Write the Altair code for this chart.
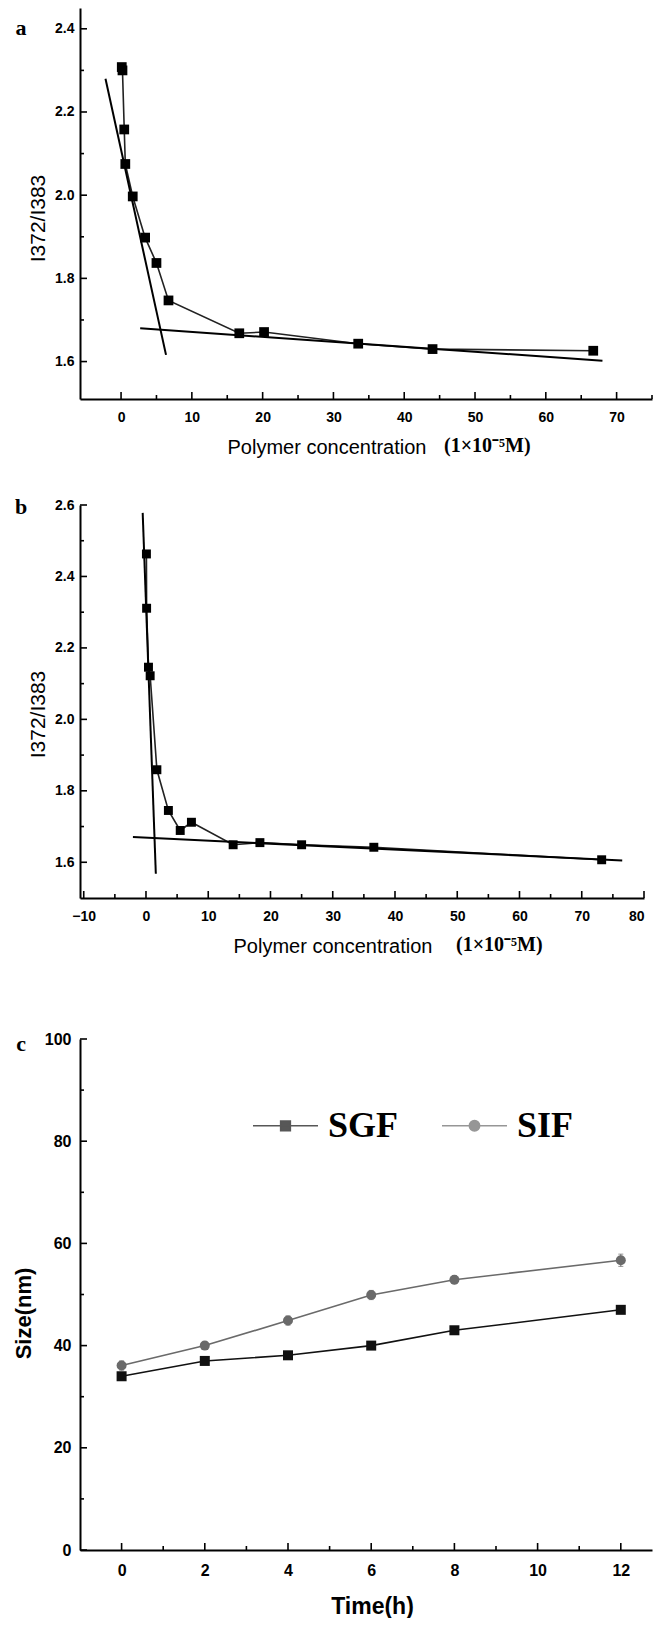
import altair as alt
import pandas as pd

# ---------------- data ----------------
# panel a : pyrene ratio vs polymer concentration
a_conc = [0.1, 0.2, 0.45, 0.6, 1.65, 3.4, 5.0, 6.7, 16.7, 20.2, 33.5, 44.0, 66.7]
a_ratio = [2.308, 2.300, 2.158, 2.075, 1.997, 1.898, 1.837, 1.747, 1.668, 1.671, 1.643, 1.630, 1.626]
a_fit_x1 = [-2.2, 2.7]
a_fit_y1 = [2.280, 1.680]
a_fit_x2 = [6.35, 68.0]
a_fit_y2 = [1.616, 1.602]

# panel b
b_conc = [0.07, 0.1, 0.4, 0.67, 1.75, 3.6, 5.5, 7.3, 14.0, 18.3, 25.0, 36.6, 73.2]
b_ratio = [2.463, 2.311, 2.146, 2.122, 1.859, 1.745, 1.689, 1.712, 1.649, 1.655, 1.649, 1.642, 1.607]
b_fit_x1 = [-0.53, -2.1]
b_fit_y1 = [2.578, 1.6705]
b_fit_x2 = [1.58, 76.5]
b_fit_y2 = [1.568, 1.605]

# panel c : size vs time
time_h = [0, 2, 4, 6, 8, 12]
sgf_size = [34.0, 37.0, 38.1, 40.0, 43.0, 47.0]
sif_size = [36.1, 40.0, 44.9, 49.9, 52.9, 56.7]
sgf_err = [0.6, 0.6, 0.6, 0.6, 0.6, 0.7]
sif_err = [0.9, 0.7, 0.9, 0.9, 0.8, 1.2]
series_names = ["SGF", "SIF"]

# ticks / labels
a_x_major = [0, 10, 20, 30, 40, 50, 60, 70]
a_x_minor = [5, 15, 25, 35, 45, 55, 65, 75]
a_y_major = [1.6, 1.8, 2.0, 2.2, 2.4]
a_y_minor = [1.7, 1.9, 2.1, 2.3]
b_x_major = [-10, 0, 10, 20, 30, 40, 50, 60, 70, 80]
b_x_minor = [-5, 5, 15, 25, 35, 45, 55, 65, 75]
b_y_major = [1.6, 1.8, 2.0, 2.2, 2.4, 2.6]
b_y_minor = [1.7, 1.9, 2.1, 2.3, 2.5]
c_x_major = [0, 2, 4, 6, 8, 10, 12]
c_x_minor = [1, 3, 5, 7, 9, 11]
c_y_major = [0, 20, 40, 60, 80, 100]
c_y_minor = [10, 30, 50, 70, 90]

panel_letters = ["a", "b", "c"]
x_title_ab = "Polymer concentration"
unit_text = "(1×10⁻⁵M)"
y_title_ab = "I372/I383"
x_title_c = "Time(h)"
y_title_c = "Size(nm)"

SANS = "Liberation Sans"
SERIF = "Liberation Serif"
series_colors = ["#111111", "#6a6a6a"]


def tick_layers(xscale, yscale, xax, yax, xmaj, xmin, ymaj, ymin, H):
    layers = []
    for vals, ln in ((xmaj, 7), (xmin, 4)):
        layers.append(
            alt.Chart(pd.DataFrame({"v": vals}))
            .mark_rule(color="black", strokeWidth=1.6)
            .encode(x=alt.X("v:Q", scale=xscale, axis=xax), y=alt.value(H), y2=alt.value(H - ln))
        )
    for vals, ln in ((ymaj, 7), (ymin, 4)):
        layers.append(
            alt.Chart(pd.DataFrame({"v": vals}))
            .mark_rule(color="black", strokeWidth=1.6)
            .encode(y=alt.Y("v:Q", scale=yscale, axis=yax), x=alt.value(0), x2=alt.value(ln))
        )
    return layers


def text_layer(txt, x, y, font, size, weight="bold", align="center", baseline="middle"):
    return (
        alt.Chart(pd.DataFrame({"t": [txt]}))
        .mark_text(font=font, fontSize=size, fontWeight=weight, align=align, baseline=baseline, color="black")
        .encode(text="t:N", x=alt.value(x), y=alt.value(y))
    )


def conc_panel(conc, ratio, fx1, fy1, fx2, fy2, xdom, ydom, W, H,
               xmaj, xmin, ymaj, ymin, letter, letter_y, ytitle_y, xtitle_x, unit_x, size):
    df = pd.DataFrame({"conc": conc, "ratio": ratio, "idx": list(range(len(conc)))})
    fits = pd.DataFrame({"x1": fx1, "y1": fy1, "x2": fx2, "y2": fy2})
    xs = alt.Scale(domain=xdom, nice=False, zero=False)
    ys = alt.Scale(domain=ydom, nice=False, zero=False)
    xax = alt.Axis(values=xmaj, format="d", title=x_title_ab, titleX=xtitle_x, titleY=54,
                   titleAlign="left", titleBaseline="alphabetic", titleFontSize=20,
                   titleFontWeight="normal", titleFont=SANS, labelPadding=11, labelFontSize=14)
    yax = alt.Axis(values=ymaj, format=".1f", title=y_title_ab, titleX=-42, titleY=ytitle_y,
                   titleBaseline="middle", titleAlign="center", titleFontSize=21,
                   titleFontWeight="normal", titleFont=SANS, labelPadding=6, labelFontSize=14)
    line = alt.Chart(df).mark_line(color="#222222", strokeWidth=1.6).encode(
        x=alt.X("conc:Q", scale=xs, axis=xax),
        y=alt.Y("ratio:Q", scale=ys, axis=yax),
        order="idx:Q",
    )
    pts = alt.Chart(df).mark_point(shape="square", filled=True, size=size, color="black", opacity=1).encode(
        x=alt.X("conc:Q", scale=xs, axis=xax), y=alt.Y("ratio:Q", scale=ys, axis=yax)
    )
    fit = alt.Chart(fits).mark_rule(color="black", strokeWidth=2).encode(
        x=alt.X("x1:Q", scale=xs, axis=xax), x2="x2:Q",
        y=alt.Y("y1:Q", scale=ys, axis=yax), y2="y2:Q",
    )
    layers = [line, fit, pts] + tick_layers(xs, ys, xax, yax, xmaj, xmin, ymaj, ymin, H)
    layers.append(text_layer(letter, -59, letter_y, SERIF, 22))
    layers.append(text_layer(unit_text, unit_x, H + 53, SERIF, 20, align="left", baseline="alphabetic"))
    return alt.layer(*layers).properties(width=W, height=H)


chart_a = conc_panel(a_conc, a_ratio, a_fit_x1, a_fit_y1, a_fit_x2, a_fit_y2,
                     [-5.8, 75], [1.51, 2.45], 572, 391,
                     a_x_major, a_x_minor, a_y_major, a_y_minor,
                     panel_letters[0], 20, 210, 147, 364, 95)
chart_b = conc_panel(b_conc, b_ratio, b_fit_x1, b_fit_y1, b_fit_x2, b_fit_y2,
                     [-10.6, 80], [1.5, 2.6], 564, 393,
                     b_x_major, b_x_minor, b_y_major, b_y_minor,
                     panel_letters[1], 2, 209, 153, 376, 80)

# ---------------- panel c ----------------
W_c, H_c = 572, 511
cdf = pd.DataFrame({
    "time": time_h * 2,
    "size": sgf_size + sif_size,
    "err": sgf_err + sif_err,
    "series": [series_names[0]] * len(time_h) + [series_names[1]] * len(time_h),
})
cdf["lo"] = cdf["size"] - cdf["err"]
cdf["hi"] = cdf["size"] + cdf["err"]
xs_c = alt.Scale(domain=[-1, 12.75], nice=False, zero=False)
ys_c = alt.Scale(domain=[0, 100], nice=False, zero=False)
col_sc = alt.Scale(domain=series_names, range=series_colors)
xax_c = alt.Axis(values=c_x_major, format="d", title=x_title_c, titleX=292, titleY=63,
                 titleAlign="center", titleBaseline="alphabetic", titleFontSize=23,
                 titleFontWeight="bold", titleFont=SANS, labelPadding=12, labelFontSize=16)
yax_c = alt.Axis(values=c_y_major, format="d", title=y_title_c, titleX=-57, titleY=274,
                 titleAlign="center", titleBaseline="middle", titleFontSize=22,
                 titleFontWeight="bold", titleFont=SANS, labelPadding=9, labelFontSize=16)

legend_paths = [
    "M-1,0H1M-0.15,-0.15H0.15V0.15H-0.15Z",
    "M-1,0H1M0.16,0A0.16,0.16 0 1 1 -0.16,0A0.16,0.16 0 1 1 0.16,0Z",
]
leg = alt.Legend(title=None, orient="none", legendX=172, legendY=1084, direction="horizontal",
                 symbolSize=4225, symbolStrokeWidth=1.5, labelFont=SERIF, labelFontSize=36,
                 labelFontWeight="bold", labelColor="black", labelOffset=9, columnPadding=40,
                 padding=0, labelLimit=300)

line_c = alt.Chart(cdf).mark_line(strokeWidth=1.6).encode(
    x=alt.X("time:Q", scale=xs_c, axis=xax_c),
    y=alt.Y("size:Q", scale=ys_c, axis=yax_c),
    color=alt.Color("series:N", scale=col_sc, legend=leg),
)
err_c = alt.Chart(cdf).mark_errorbar(ticks=True).encode(
    x=alt.X("time:Q", scale=xs_c, axis=xax_c),
    y=alt.Y("lo:Q", scale=ys_c, axis=yax_c),
    y2="hi:Q",
    color=alt.Color("series:N", scale=col_sc, legend=leg),
)
sq_c = alt.Chart(cdf).transform_filter(alt.datum.series == series_names[0]).mark_point(
    shape="square", filled=True, size=100, opacity=1).encode(
    x=alt.X("time:Q", scale=xs_c, axis=xax_c), y=alt.Y("size:Q", scale=ys_c, axis=yax_c),
    color=alt.Color("series:N", scale=col_sc, legend=leg),
)
ci_c = alt.Chart(cdf).transform_filter(alt.datum.series == series_names[1]).mark_point(
    shape="circle", filled=True, size=100, opacity=1).encode(
    x=alt.X("time:Q", scale=xs_c, axis=xax_c), y=alt.Y("size:Q", scale=ys_c, axis=yax_c),
    color=alt.Color("series:N", scale=col_sc, legend=leg),
)
legend_layer = alt.Chart(pd.DataFrame({"series": series_names})).transform_filter("false").mark_point(
    filled=True, strokeWidth=1.5, opacity=1).encode(
    fill=alt.Fill("series:N", scale=alt.Scale(domain=series_names, range=series_colors), legend=leg),
    stroke=alt.Stroke("series:N", scale=alt.Scale(domain=series_names, range=series_colors), legend=leg),
    shape=alt.Shape("series:N", scale=alt.Scale(domain=series_names, range=legend_paths), legend=leg),
)

layers_c = [line_c, err_c, sq_c, ci_c] + tick_layers(xs_c, ys_c, xax_c, yax_c, c_x_major, c_x_minor,
                                                     c_y_major, c_y_minor, H_c)
layers_c.append(text_layer(panel_letters[2], -59, 5, SERIF, 22))
layers_c.append(legend_layer)
chart_c = alt.layer(*layers_c).properties(width=W_c, height=H_c)

top = alt.vconcat(chart_a, chart_b, spacing=39)
chart = (
    alt.vconcat(top, chart_c, spacing=75)
    .properties(padding={"left": 4, "top": 0, "right": 0, "bottom": 0})
    .configure_view(strokeWidth=0)
    .configure_axis(grid=False, ticks=False, domainColor="black", domainWidth=2,
                    labelFont=SANS, labelFontWeight="bold", labelColor="black",
                    titleColor="black")
)

chart.save("out.html", embed_options={"renderer": "svg", "actions": False})
